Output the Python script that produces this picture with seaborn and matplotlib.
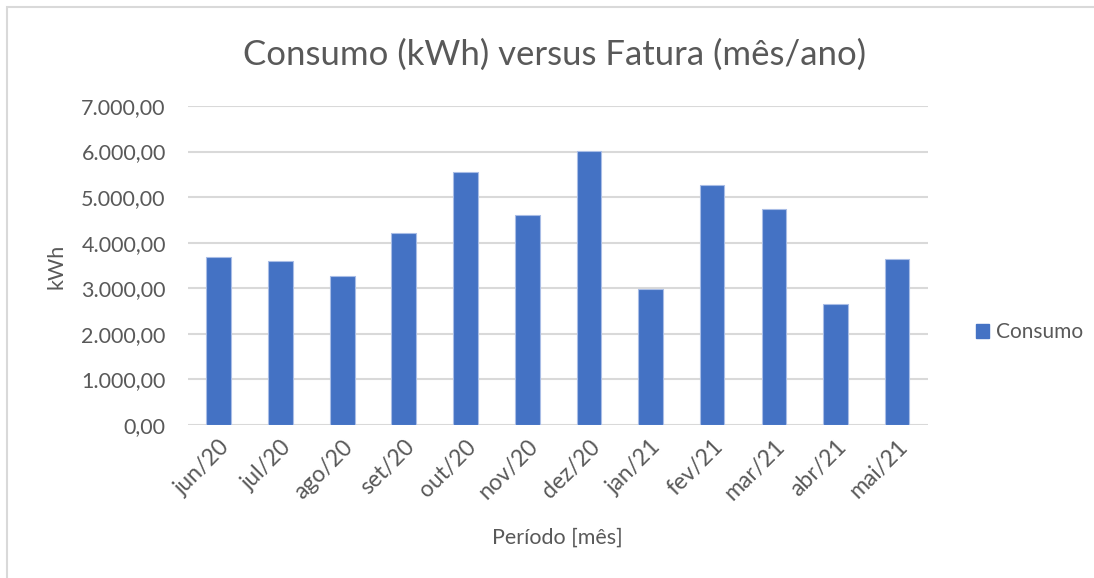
import numpy as np
import pandas as pd
import matplotlib.pyplot as plt
import seaborn as sns
from matplotlib.patches import Rectangle, Patch
from matplotlib.ticker import FuncFormatter

# data
meses = ['jun/20', 'jul/20', 'ago/20', 'set/20', 'out/20', 'nov/20',
         'dez/20', 'jan/21', 'fev/21', 'mar/21', 'abr/21', 'mai/21']
consumo = [3690, 3600, 3270, 4210, 5545, 4610,
           6010, 2995, 5275, 4747, 2660, 3633]
y_ticks = [0, 1000, 2000, 3000, 4000, 5000, 6000, 7000]

df = pd.DataFrame({'mes': meses, 'consumo': consumo})

sns.set_theme(style='white')
plt.rcParams['font.family'] = ['Lato', 'DejaVu Sans']
cinza = '#595959'
azul = '#4472C4'

W, H = 1094, 578
fig = plt.figure(figsize=(W / 100, H / 100), dpi=100)
ax = fig.add_axes([188 / W, 1 - 425 / H, (928 - 188) / W, (425 - 106) / H])

sns.barplot(data=df, x='mes', y='consumo', color=azul, width=0.4,
            saturation=1, edgecolor='#A9BDE6', linewidth=0.8, ax=ax, zorder=3)

ax.set_ylim(0, 7000)
ax.set_xlim(-0.5, len(meses) - 0.5)
ax.set_yticks(y_ticks)
ax.yaxis.set_major_formatter(FuncFormatter(
    lambda v, p: f'{v:,.2f}'.replace(',', 'X').replace('.', ',').replace('X', '.')))
ax.grid(axis='y', color='#D9D9D9', linewidth=1.5, zorder=0)
ax.grid(axis='x', visible=False)
for s in ax.spines.values():
    s.set_visible(False)
ax.tick_params(axis='y', length=0, pad=16, labelsize=15.5, labelcolor=cinza)
ax.tick_params(axis='x', length=0, pad=8, labelsize=16.5, labelcolor=cinza)
plt.setp(ax.get_xticklabels(), rotation=45, ha='right', rotation_mode='anchor')

ax.set_xlabel('')
ax.set_ylabel('')
fig.text(557 / W, 1 - 538 / H, 'Período [mês]', ha='center', va='center',
         fontsize=15.5, color=cinza)
fig.text(57 / W, 1 - 266 / H, 'kWh', ha='center', va='center',
         rotation=90, fontsize=15.5, color=cinza)
fig.text(555 / W, 1 - 55 / H, 'Consumo (kWh) versus Fatura (mês/ano)',
         ha='center', va='center', fontsize=25, color=cinza)

fig.legend(handles=[Patch(facecolor=azul, edgecolor=azul, label='Consumo')],
           loc='center left', bbox_to_anchor=(957 / W, 1 - 332 / H),
           frameon=False, fontsize=15, labelcolor=cinza,
           handlelength=0.65, handleheight=0.65, handletextpad=0.3)

# chart area border
fig.patches.append(Rectangle((7 / W, -0.1), 1.2, 1 - 7 / H + 0.1,
                             transform=fig.transFigure, fill=False,
                             edgecolor='#D9D9D9', linewidth=1.5))

fig.savefig('out.png', dpi=100, facecolor='white')
